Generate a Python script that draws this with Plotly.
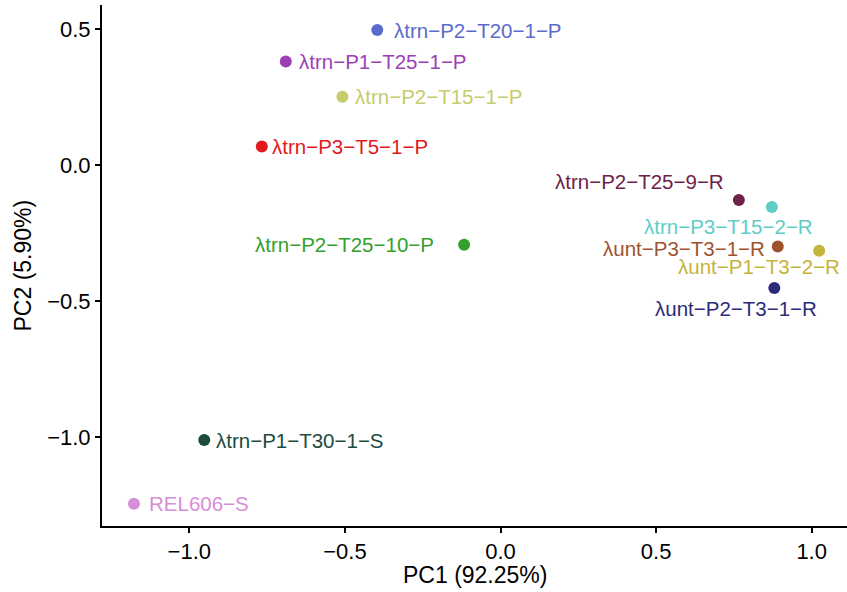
import plotly.graph_objects as go

# ---- data ----
samples = [
    "λtrn−P2−T20−1−P", "λtrn−P1−T25−1−P", "λtrn−P2−T15−1−P", "λtrn−P3−T5−1−P",
    "λtrn−P2−T25−9−R", "λtrn−P3−T15−2−R", "λunt−P3−T3−1−R", "λunt−P1−T3−2−R",
    "λunt−P2−T3−1−R", "λtrn−P2−T25−10−P", "λtrn−P1−T30−1−S", "REL606−S",
]
pc1 = [-0.396, -0.690, -0.508, -0.767, 0.766, 0.872, 0.891, 1.024, 0.880, -0.117, -0.952, -1.178]
pc2 = [0.496, 0.380, 0.251, 0.068, -0.129, -0.155, -0.300, -0.316, -0.453, -0.294, -1.012, -1.246]
x_ticks = [-1.0, -0.5, 0.0, 0.5, 1.0]
y_ticks = [0.5, 0.0, -0.5, -1.0]
x_title = "PC1 (92.25%)"
y_title = "PC2 (5.90%)"

# ---- styles ----
colors = ["#5b6bcb", "#9b3fb6", "#c6cc6c", "#e3191c", "#6c2249", "#5ecdc6",
          "#a0532e", "#c5b43b", "#2c2b7b", "#33a02c", "#1d4c3f", "#d78ed8"]
# label offsets in px (dx, dy with dy up-positive, anchor)
label_pos = [(16, 0, "left"), (12, 0, "left"), (12, 0, "left"), (9, 0, "left"),
             (-14, 18, "right"), (-43, -19, "center"), (-12, -2, "center_r"),
             (-60, -16, "center"), (-38, -20, "center"), (-29, 0, "right"),
             (11, 0, "left"), (14, 0, "left")]

FONT = "Liberation Sans, Arial, sans-serif"

fig = go.Figure()
fig.add_trace(go.Scatter(
    x=pc1, y=pc2, mode="markers",
    marker=dict(size=12, color=colors, line=dict(width=0)),
    hoverinfo="text", text=samples, showlegend=False,
))

annotations = []
for name, xv, yv, col, (dx, dy, anc) in zip(samples, pc1, pc2, colors, label_pos):
    a = "right" if anc == "center_r" else anc
    annotations.append(dict(
        x=xv, y=yv, xref="x", yref="y", text=name, showarrow=False,
        xanchor=a, yanchor="middle", xshift=dx, yshift=dy,
        font=dict(family=FONT, size=20.5, color=col), borderpad=0,
    ))

annotations.append(dict(
    xref="paper", yref="paper", x=0.5, y=0, yshift=-49, text=x_title,
    showarrow=False, xanchor="center", yanchor="middle",
    font=dict(family=FONT, size=23, color="black"),
))
annotations.append(dict(
    xref="paper", yref="paper", x=0, y=0.5, xshift=-80, text=y_title,
    showarrow=False, xanchor="center", yanchor="middle", textangle=-90,
    font=dict(family=FONT, size=23, color="black"),
))

axis_common = dict(
    showgrid=False, zeroline=False, showline=True, linecolor="black", linewidth=2,
    ticks="outside", ticklen=5, tickwidth=2, tickcolor="black",
    tickfont=dict(family=FONT, size=22, color="black"), automargin=False,
)

fig.update_layout(
    width=847, height=592,
    margin=dict(l=102, r=0, t=5, b=66),
    plot_bgcolor="white", paper_bgcolor="white",
    xaxis=dict(range=[-1.2806, 1.1135], tickvals=x_ticks,
               ticktext=[f"{v:.1f}".replace("-", "−") for v in x_ticks], **axis_common),
    yaxis=dict(range=[-1.328, 0.588], tickvals=y_ticks,
               ticktext=[f"{v:.1f}".replace("-", "−") for v in y_ticks], **axis_common),
    annotations=annotations,
)

fig.write_html("out.html")
